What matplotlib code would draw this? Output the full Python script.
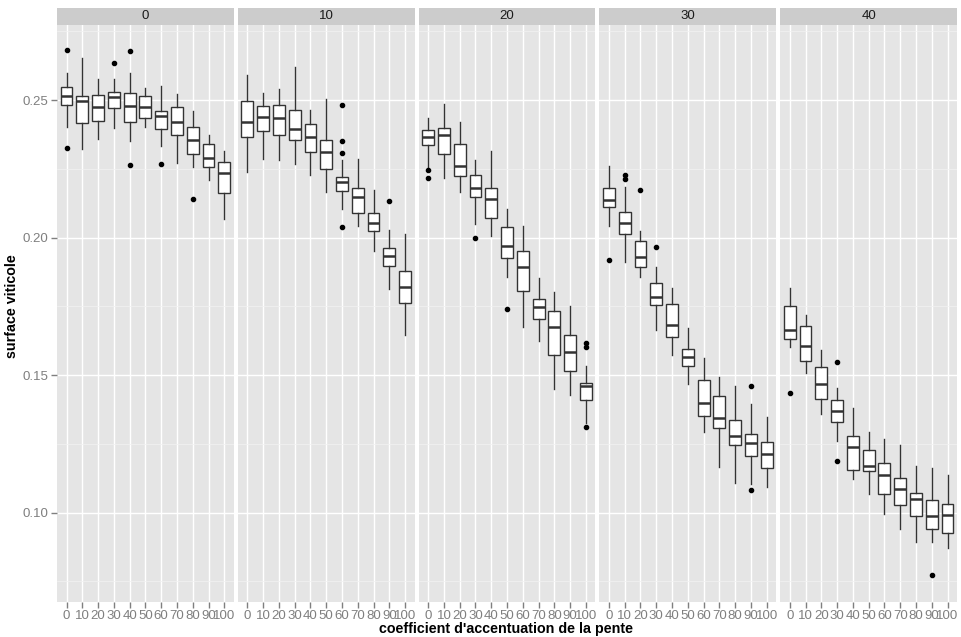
import numpy as np
import matplotlib.pyplot as plt
from matplotlib.patches import Rectangle

plt.rcParams["font.family"] = ["Liberation Sans", "DejaVu Sans"]

facets = ["0", "10", "20", "30", "40"]
categories = ["0", "10", "20", "30", "40", "50", "60", "70", "80", "90", "100"]

# box stats, one row per facet
whishi = [
    [0.2597, 0.2652, 0.2575, 0.2578, 0.2597, 0.2544, 0.2551, 0.2522, 0.2459, 0.2372, 0.2315],
    [0.2590, 0.2527, 0.2542, 0.2621, 0.2465, 0.2505, 0.2282, 0.2285, 0.2172, 0.2026, 0.2014],
    [0.2433, 0.2485, 0.2419, 0.2282, 0.2316, 0.2103, 0.2043, 0.1853, 0.1801, 0.1750, 0.1533],
    [0.2262, 0.2184, 0.2025, 0.1893, 0.1816, 0.1671, 0.1562, 0.1492, 0.1459, 0.1393, 0.1347],
    [0.1818, 0.1717, 0.1592, 0.1454, 0.1379, 0.1292, 0.1266, 0.1244, 0.1168, 0.1161, 0.1135],
]
q3 = [
    [0.2547, 0.2516, 0.2517, 0.2529, 0.2524, 0.2513, 0.2460, 0.2476, 0.2401, 0.2342, 0.2276],
    [0.2496, 0.2479, 0.2483, 0.2464, 0.2414, 0.2353, 0.2222, 0.2179, 0.2090, 0.1962, 0.1878],
    [0.2392, 0.2397, 0.2339, 0.2227, 0.2179, 0.2038, 0.1951, 0.1777, 0.1732, 0.1644, 0.1472],
    [0.2181, 0.2092, 0.1986, 0.1836, 0.1757, 0.1596, 0.1481, 0.1423, 0.1338, 0.1285, 0.1257],
    [0.1752, 0.1679, 0.1529, 0.1410, 0.1279, 0.1226, 0.1179, 0.1125, 0.1070, 0.1045, 0.1030],
]
medians = [
    [0.2515, 0.2495, 0.2475, 0.2511, 0.2478, 0.2476, 0.2441, 0.2420, 0.2356, 0.2289, 0.2236],
    [0.2421, 0.2438, 0.2433, 0.2393, 0.2365, 0.2311, 0.2201, 0.2147, 0.2054, 0.1934, 0.1820],
    [0.2367, 0.2374, 0.2260, 0.2182, 0.2141, 0.1970, 0.1894, 0.1748, 0.1676, 0.1583, 0.1460],
    [0.2136, 0.2053, 0.1928, 0.1785, 0.1682, 0.1567, 0.1399, 0.1345, 0.1278, 0.1254, 0.1214],
    [0.1664, 0.1605, 0.1468, 0.1370, 0.1237, 0.1171, 0.1136, 0.1084, 0.1050, 0.0986, 0.0993],
]
q1 = [
    [0.2481, 0.2416, 0.2424, 0.2470, 0.2419, 0.2433, 0.2393, 0.2373, 0.2304, 0.2258, 0.2161],
    [0.2367, 0.2386, 0.2372, 0.2355, 0.2310, 0.2250, 0.2168, 0.2089, 0.2023, 0.1895, 0.1761],
    [0.2338, 0.2303, 0.2225, 0.2147, 0.2070, 0.1925, 0.1807, 0.1703, 0.1574, 0.1513, 0.1410],
    [0.2112, 0.2012, 0.1894, 0.1756, 0.1637, 0.1533, 0.1351, 0.1306, 0.1245, 0.1207, 0.1163],
    [0.1631, 0.1551, 0.1413, 0.1329, 0.1155, 0.1153, 0.1066, 0.1026, 0.0987, 0.0941, 0.0924],
]
whislo = [
    [0.2403, 0.2322, 0.2357, 0.2399, 0.2352, 0.2403, 0.2334, 0.2272, 0.2255, 0.2209, 0.2068],
    [0.2239, 0.2284, 0.2282, 0.2266, 0.2227, 0.2167, 0.2105, 0.2041, 0.1950, 0.1812, 0.1645],
    [0.2258, 0.2218, 0.2164, 0.2048, 0.2005, 0.1856, 0.1675, 0.1624, 0.1448, 0.1426, 0.1324],
    [0.2043, 0.1911, 0.1856, 0.1665, 0.1573, 0.1468, 0.1294, 0.1165, 0.1107, 0.1103, 0.1092],
    [0.1601, 0.1508, 0.1357, 0.1260, 0.1123, 0.1066, 0.0996, 0.0942, 0.0894, 0.0892, 0.0873],
]
outliers = [
    [[0.2682, 0.2327], [], [], [0.2633], [0.2679, 0.2265], [], [0.2267], [], [0.2139], [], []],
    [[], [], [], [], [], [], [0.2482, 0.2352, 0.2306, 0.2037], [], [], [0.2134], []],
    [[0.2244, 0.2215], [], [], [0.1999], [], [0.1741], [], [], [], [], [0.1618, 0.1603, 0.1312]],
    [[0.1918], [0.2226, 0.2212], [0.2174], [0.1967], [], [], [], [], [], [0.1461, 0.1082], []],
    [[0.1435], [], [], [0.1547, 0.1188], [], [], [], [], [], [0.0773], []],
]

fig, axes = plt.subplots(1, 5, figsize=(9.62, 6.37), dpi=100, sharey=True)
fig.subplots_adjust(left=0.0593, right=0.9948, bottom=0.055, top=0.9608, wspace=0.023)

pos = np.arange(len(categories))
for i, ax in enumerate(axes):
    stats = []
    for j in range(len(categories)):
        stats.append(dict(med=medians[i][j], q1=q1[i][j], q3=q3[i][j],
                          whislo=whislo[i][j], whishi=whishi[i][j],
                          fliers=outliers[i][j]))
    ax.set_facecolor("#E5E5E5")
    ax.bxp(stats, positions=pos, widths=0.75, patch_artist=True,
           boxprops=dict(facecolor="white", edgecolor="#333333", linewidth=1.0),
           medianprops=dict(color="#333333", linewidth=1.8),
           whiskerprops=dict(color="#333333", linewidth=1.0),
           capprops=dict(linewidth=0),
           flierprops=dict(marker="o", markersize=3, markerfacecolor="black",
                           markeredgecolor="black"),
           zorder=3)
    ax.set_xlim(-0.6, 10.6)
    ax.set_ylim(0.0675, 0.2773)
    ax.set_yticks([0.10, 0.15, 0.20, 0.25])
    ax.set_yticks([0.075, 0.125, 0.175, 0.225, 0.275], minor=True)
    ax.set_xticks(pos)
    ax.set_xticklabels(categories)
    ax.grid(True, which="major", color="white", linewidth=1.0, zorder=0)
    ax.grid(True, which="minor", axis="y", color="#F2F2F2", linewidth=0.5, zorder=0)
    ax.set_axisbelow(True)
    for s in ax.spines.values():
        s.set_visible(False)
    ax.tick_params(axis="both", which="major", colors="#7F7F7F", labelsize=9.5,
                   length=4, width=1, pad=2)
    ax.tick_params(which="minor", length=0)
    if i > 0:
        ax.tick_params(axis="y", length=0)
    ax.add_patch(Rectangle((0, 1.0), 1, 17 / 577, transform=ax.transAxes,
                           facecolor="#CCCCCC", edgecolor="none", clip_on=False))
    ax.text(0.5, 1.0 + 8.5 / 577, facets[i], transform=ax.transAxes,
            ha="center", va="center", fontsize=9.5, color="#1A1A1A")

axes[0].set_yticklabels(["0.10", "0.15", "0.20", "0.25"])
fig.text(0.012, 0.52, "surface viticole", rotation=90, ha="center", va="center",
         fontsize=10.3, fontweight="bold")
fig.text(0.526, 0.012, "coefficient d'accentuation de la pente", ha="center",
         va="center", fontsize=10.3, fontweight="bold")

plt.savefig("out.png", dpi=100)
